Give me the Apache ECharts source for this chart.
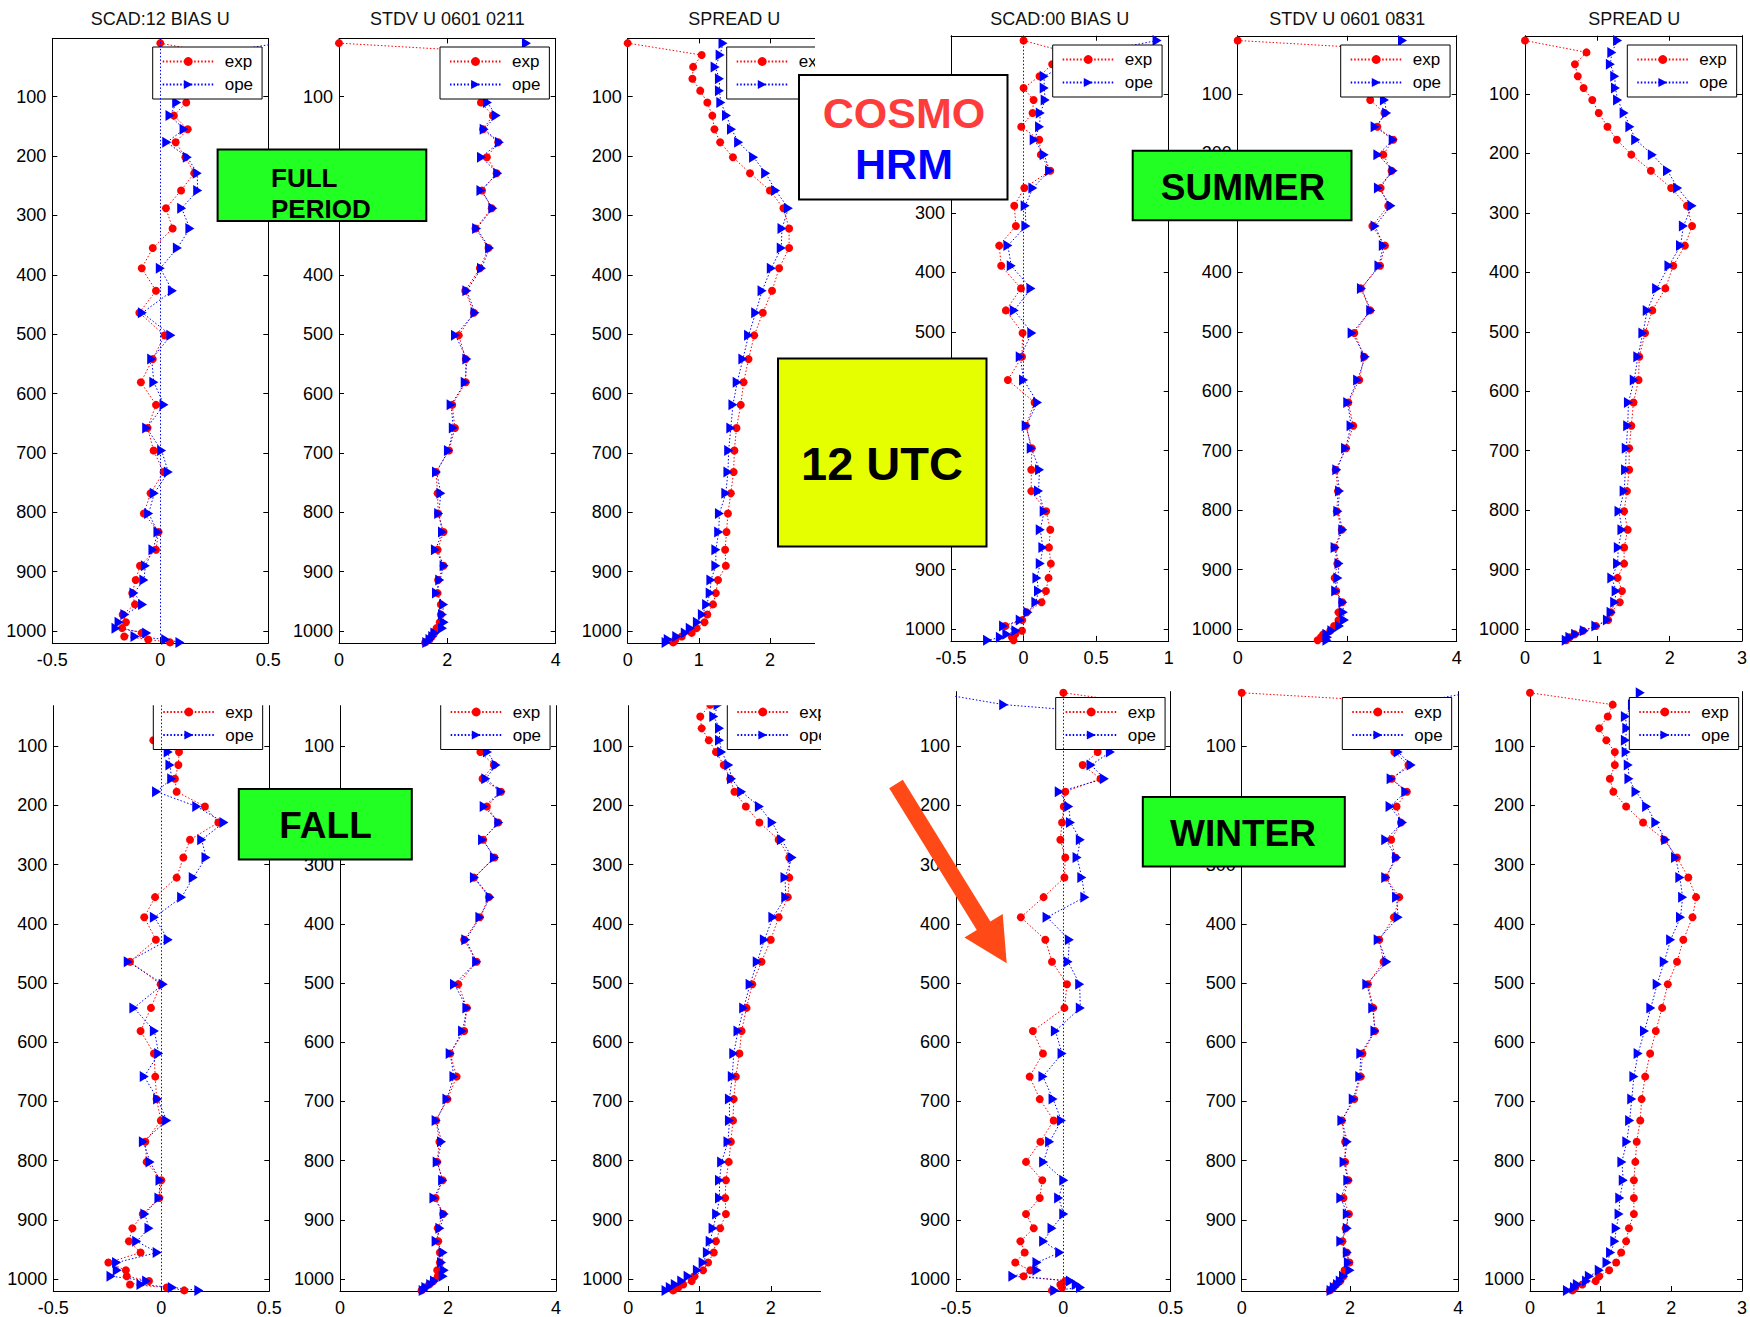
<!DOCTYPE html>
<html>
<head>
<meta charset="utf-8">
<title>COSMO / HRM wind U profiles</title>
<script src="https://cdn.jsdelivr.net/npm/echarts@6/dist/echarts.min.js"></script>
<style>
  html, body { margin: 0; padding: 0; background: #fff; }
  #chart { width: 1750px; height: 1317px; }
</style>
</head>
<body>
<div id="chart"></div>
<script>
const FONT = '"Liberation Sans", Arial, sans-serif';

// pressure levels (hPa), same for every profile
const levels = [10, 30, 50, 70, 90, 110, 132, 155, 177, 202, 229, 258, 288, 322, 355, 389, 427, 464, 502, 542,
  581, 619, 658, 696, 732, 768, 802, 833, 863, 890, 914, 936, 955, 972, 985, 995, 1003, 1009, 1014, 1019];

// tick labels
const pressureTicks = [100, 200, 300, 400, 500, 600, 700, 800, 900, 1000];
const biasTicks = [-0.5, 0, 0.5];
const biasTicksWide = [-0.5, 0, 0.5, 1];
const stdvTicks = [0, 2, 4];
const spreadTicks = [0, 1, 2, 3];

// FULL PERIOD
const fullBiasExp = [0, 0.29, 0.25, 0.2, 0.15, 0.12, 0.063, 0.127, 0.071, 0.116, 0.157, 0.096, 0.026, 0.057, -0.035, -0.086, -0.02, -0.097, 0.02, -0.035,
  -0.09, -0.02, -0.059, -0.031, 0.015, -0.045, -0.076, -0.008, -0.02, -0.094, -0.114, -0.13, -0.117, -0.174, -0.159, -0.177, -0.086, -0.167, -0.056, 0.045];
const fullBiasOpe = [0.55, 0.2, 0.18, 0.15, 0.12, 0.076, 0.045, 0.11, 0.03, 0.125, 0.171, 0.173, 0.099, 0.137, 0.079, 0, 0.056, -0.083, 0.049, -0.04,
  -0.03, 0.017, -0.063, 0.006, 0.037, -0.028, -0.054, -0.011, -0.034, -0.069, -0.076, -0.122, -0.082, -0.164, -0.191, -0.205, -0.063, -0.117, 0.025, 0.091];
const fullStdvExp = [0, 3.8, 2.8, 2.7, 2.65, 2.62, 2.84, 2.66, 2.94, 2.73, 2.91, 2.64, 2.82, 2.52, 2.76, 2.6, 2.33, 2.49, 2.21, 2.34,
  2.34, 2.09, 2.14, 2.03, 1.79, 1.82, 1.83, 1.93, 1.82, 1.93, 1.83, 1.82, 1.88, 1.88, 1.86, 1.8, 1.76, 1.71, 1.67, 1.59];
const fullStdvOpe = [3.46, 3.2, 3.0, 2.85, 2.75, 2.74, 2.9, 2.68, 2.96, 2.63, 2.93, 2.62, 2.84, 2.54, 2.78, 2.63, 2.36, 2.51, 2.15, 2.36,
  2.33, 2.07, 2.11, 2.02, 1.8, 1.88, 1.84, 1.91, 1.78, 1.94, 1.86, 1.8, 1.93, 1.91, 1.94, 1.91, 1.77, 1.73, 1.68, 1.62];
const fullSpreadExp = [0, 1.04, 0.92, 0.91, 1.02, 1.12, 1.19, 1.22, 1.3, 1.48, 1.72, 2.0, 2.19, 2.27, 2.27, 2.13, 2.03, 1.9, 1.78, 1.7,
  1.63, 1.59, 1.53, 1.5, 1.49, 1.45, 1.41, 1.39, 1.37, 1.38, 1.27, 1.24, 1.2, 1.12, 1.08, 0.97, 0.9, 0.76, 0.67, 0.64];
const fullSpreadOpe = [1.34, 1.3, 1.23, 1.29, 1.29, 1.31, 1.39, 1.46, 1.56, 1.77, 1.94, 2.08, 2.26, 2.17, 2.16, 2.02, 1.89, 1.8, 1.7, 1.62,
  1.54, 1.48, 1.45, 1.42, 1.41, 1.38, 1.29, 1.28, 1.24, 1.24, 1.17, 1.16, 1.11, 1.05, 0.98, 0.88, 0.81, 0.69, 0.57, 0.54];

// SUMMER
const summerBiasExp = [0, 0.3, 0.197, 0.11, 0, 0.069, 0.062, -0.016, 0.108, 0.119, 0.184, 0.005, -0.064, -0.053, -0.168, -0.154, -0.018, -0.122, -0.007, -0.011,
  -0.108, 0.076, 0.016, 0.057, 0.053, 0.053, 0.156, 0.184, 0.175, 0.188, 0.172, 0.154, 0.124, 0.023, -0.009, -0.126, -0.011, -0.057, -0.08, -0.069];
const summerBiasOpe = [0.92, 0.5, 0.3, 0.142, 0.142, 0.149, 0.115, 0.11, 0.073, 0.142, 0.179, 0.064, 0.011, 0.016, -0.108, -0.085, 0.051, -0.064, 0.057, -0.023,
  0, 0.096, 0.018, 0.053, 0.11, 0.103, 0.142, 0.115, 0.133, 0.115, 0.092, 0.103, 0.085, 0.03, -0.023, -0.138, -0.053, -0.115, -0.16, -0.248];
const summerStdvExp = [0, 3.8, 2.75, 2.6, 2.5, 2.42, 2.68, 2.55, 2.84, 2.66, 2.81, 2.61, 2.75, 2.46, 2.69, 2.6, 2.25, 2.42, 2.13, 2.31,
  2.22, 2.02, 2.11, 1.98, 1.79, 1.83, 1.81, 1.9, 1.77, 1.82, 1.77, 1.8, 1.91, 1.84, 1.84, 1.76, 1.69, 1.56, 1.52, 1.46];
const summerStdvOpe = [3.01, 2.9, 2.8, 2.7, 2.65, 2.68, 2.72, 2.51, 2.84, 2.56, 2.84, 2.57, 2.8, 2.51, 2.66, 2.58, 2.26, 2.43, 2.09, 2.33,
  2.19, 2.01, 2.07, 1.97, 1.81, 1.86, 1.83, 1.92, 1.78, 1.85, 1.83, 1.79, 1.92, 1.93, 1.95, 1.86, 1.72, 1.63, 1.64, 1.63];
const summerSpreadExp = [0, 0.85, 0.69, 0.73, 0.81, 0.93, 1.02, 1.14, 1.27, 1.47, 1.74, 2.02, 2.24, 2.31, 2.21, 2.05, 1.94, 1.76, 1.66, 1.58,
  1.57, 1.5, 1.47, 1.44, 1.44, 1.41, 1.37, 1.42, 1.37, 1.37, 1.28, 1.34, 1.31, 1.19, 1.15, 0.98, 0.8, 0.69, 0.62, 0.57];
const summerSpreadOpe = [1.28, 1.2, 1.18, 1.24, 1.25, 1.28, 1.37, 1.45, 1.53, 1.76, 1.97, 2.11, 2.31, 2.19, 2.15, 1.99, 1.82, 1.69, 1.63, 1.56,
  1.51, 1.43, 1.42, 1.4, 1.39, 1.37, 1.3, 1.34, 1.29, 1.28, 1.2, 1.26, 1.24, 1.19, 1.14, 0.98, 0.82, 0.7, 0.62, 0.57];

// FALL
const fallBiasExp = [0, 0.05, 0.05, 0.02, -0.037, 0.082, 0.079, 0.063, 0.071, 0.202, 0.264, 0.133, 0.102, 0.071, -0.029, -0.079, -0.025, -0.145, -0.003, -0.048,
  -0.096, -0.034, -0.028, -0.022, -0.002, -0.074, -0.068, 0, -0.009, -0.086, -0.134, -0.15, -0.096, -0.245, -0.164, -0.16, -0.057, -0.145, 0.025, 0.106];
const fallBiasOpe = [0, 0.05, 0.05, 0.05, 0.03, 0.032, 0.04, 0.048, -0.022, 0.164, 0.29, 0.187, 0.207, 0.148, 0.094, -0.032, 0.032, -0.153, 0.009, -0.127,
  -0.032, -0.012, -0.079, -0.017, 0.025, -0.083, -0.052, -0.006, -0.011, -0.076, -0.057, -0.114, -0.019, -0.207, -0.204, -0.233, -0.068, -0.094, 0.051, 0.174];
const fallStdvExp = [0, 2.8, 2.75, 2.7, 2.65, 2.6, 2.85, 2.64, 2.98, 2.72, 2.93, 2.65, 2.86, 2.48, 2.76, 2.59, 2.3, 2.53, 2.19, 2.35,
  2.3, 2.04, 2.16, 1.99, 1.78, 1.84, 1.8, 1.9, 1.77, 1.91, 1.81, 1.82, 1.85, 1.85, 1.8, 1.81, 1.73, 1.65, 1.57, 1.51];
const fallStdvOpe = [3.0, 2.85, 2.8, 2.75, 2.7, 2.73, 2.89, 2.7, 2.98, 2.67, 2.94, 2.64, 2.86, 2.49, 2.78, 2.59, 2.33, 2.53, 2.12, 2.35,
  2.27, 2.04, 2.11, 1.98, 1.78, 1.88, 1.8, 1.9, 1.74, 1.93, 1.85, 1.78, 1.91, 1.88, 1.93, 1.91, 1.75, 1.68, 1.59, 1.54];
const fallSpreadExp = [0, 1.15, 1.01, 1.03, 1.13, 1.23, 1.34, 1.43, 1.49, 1.65, 1.84, 2.11, 2.26, 2.26, 2.24, 2.11, 2.0, 1.87, 1.74, 1.66,
  1.59, 1.56, 1.51, 1.48, 1.47, 1.44, 1.41, 1.37, 1.36, 1.37, 1.29, 1.23, 1.2, 1.12, 1.05, 0.93, 0.89, 0.77, 0.7, 0.63];
const fallSpreadOpe = [1.3, 1.26, 1.2, 1.28, 1.28, 1.31, 1.41, 1.45, 1.59, 1.84, 2.02, 2.15, 2.3, 2.2, 2.21, 2.03, 1.91, 1.81, 1.71, 1.62,
  1.54, 1.48, 1.46, 1.42, 1.42, 1.4, 1.31, 1.28, 1.28, 1.24, 1.19, 1.15, 1.11, 1.05, 0.97, 0.84, 0.75, 0.66, 0.59, 0.53];

// WINTER
const winterBiasExp = [0, 0.4, 0.3, 0.25, 0.2, 0.16, 0.09, 0.173, 0.009, 0.002, -0.006, -0.014, 0.009, 0.005, -0.092, -0.198, -0.084, -0.053, 0.017, 0.005,
  -0.142, -0.095, -0.157, -0.11, -0.045, -0.107, -0.174, -0.098, -0.11, -0.174, -0.138, -0.2, -0.18, -0.224, -0.154, -0.185, 0.009, -0.014, -0.006, -0.053];
const winterBiasOpe = [-0.6, -0.278, 0.42, 0.25, 0.22, 0.219, 0.129, 0.191, -0.019, 0.025, 0.033, 0.079, 0.064, 0.086, 0.1, -0.076, 0.028, 0.022, 0.076, 0.079,
  -0.037, -0.006, -0.095, -0.048, -0.009, -0.064, -0.092, 0.002, -0.022, 0.002, -0.053, -0.092, -0.017, -0.123, -0.123, -0.235, 0.033, 0.06, 0.08, -0.04];
const winterStdvExp = [0, 3.8, 2.85, 2.8, 2.75, 2.82, 3.08, 2.77, 3.05, 2.86, 2.94, 2.76, 2.84, 2.66, 2.91, 2.81, 2.54, 2.62, 2.33, 2.43,
  2.46, 2.23, 2.2, 2.08, 1.85, 1.91, 1.91, 1.97, 1.88, 1.98, 1.92, 1.86, 1.94, 1.99, 1.9, 1.88, 1.82, 1.74, 1.69, 1.63];
const winterStdvOpe = [4.2, 3.0, 2.9, 2.85, 2.8, 2.89, 3.13, 2.76, 3.03, 2.74, 2.97, 2.66, 2.86, 2.66, 2.86, 2.89, 2.52, 2.68, 2.31, 2.42,
  2.46, 2.2, 2.18, 2.06, 1.85, 1.95, 1.89, 1.96, 1.83, 1.95, 1.95, 1.83, 1.95, 1.97, 2.0, 1.88, 1.82, 1.77, 1.71, 1.65];
const winterSpreadExp = [0, 1.17, 1.1, 0.98, 1.08, 1.2, 1.2, 1.13, 1.18, 1.36, 1.6, 1.9, 2.08, 2.24, 2.35, 2.3, 2.17, 2.08, 1.95, 1.87,
  1.78, 1.7, 1.63, 1.58, 1.56, 1.51, 1.49, 1.47, 1.47, 1.47, 1.4, 1.36, 1.29, 1.22, 1.12, 0.98, 0.93, 0.74, 0.64, 0.6];
const winterSpreadOpe = [1.56, 1.45, 1.35, 1.37, 1.35, 1.36, 1.39, 1.4, 1.5, 1.65, 1.78, 1.92, 2.06, 2.12, 2.16, 2.13, 1.99, 1.9, 1.8, 1.71,
  1.62, 1.53, 1.47, 1.44, 1.41, 1.37, 1.3, 1.32, 1.27, 1.26, 1.22, 1.2, 1.14, 1.09, 0.98, 0.84, 0.8, 0.67, 0.63, 0.53];

// panel layout (pixels)
const topL = { top: 38.4, bottom: 643.0, yMin: 2, box: true };
const topR = { top: 35.75, bottom: 640.9, yMin: 2, box: true };
const botL = { top: 701.7, bottom: 1292.3, yMin: 25, box: false };
const botR = { top: 691.6, bottom: 1292.3, yMin: 8, box: false };

// "covered" = pressure labels hidden under the annotation boxes in the original
const panels = [
  { ...topL, title: "SCAD:12 BIAS U", exp: fullBiasExp, ope: fullBiasOpe, xMin: -0.5, xMax: 0.5, xTicks: biasTicks, zero: true, left: 52.3, right: 268.3, legend: [152.7, 47] },
  { ...topL, title: "STDV U 0601 0211", exp: fullStdvExp, ope: fullStdvOpe, xMin: 0, xMax: 4, xTicks: stdvTicks, left: 339, right: 555.7, legend: [440, 47], covered: [300] },
  { ...topL, title: "SPREAD U", exp: fullSpreadExp, ope: fullSpreadOpe, xMin: 0, xMax: 3, xTicks: spreadTicks, left: 627.7, right: 841, legend: [726.7, 47] },
  { ...topR, title: "SCAD:00 BIAS U", exp: summerBiasExp, ope: summerBiasOpe, xMin: -0.5, xMax: 1, xTicks: biasTicksWide, zero: true, left: 951, right: 1168.7, legend: [1052.7, 45], covered: [100, 200, 600, 700, 800] },
  { ...topR, title: "STDV U 0601 0831", exp: summerStdvExp, ope: summerStdvOpe, xMin: 0, xMax: 4, xTicks: stdvTicks, left: 1237.7, right: 1456.7, legend: [1340.7, 45], covered: [300] },
  { ...topR, title: "SPREAD U", exp: summerSpreadExp, ope: summerSpreadOpe, xMin: 0, xMax: 3, xTicks: spreadTicks, left: 1525, right: 1743.3, legend: [1627.3, 45] },
  { ...botL, exp: fallBiasExp, ope: fallBiasOpe, xMin: -0.5, xMax: 0.5, xTicks: biasTicks, zero: true, left: 53.3, right: 269.3, legend: [153.3, 697.5] },
  { ...botL, exp: fallStdvExp, ope: fallStdvOpe, xMin: 0, xMax: 4, xTicks: stdvTicks, left: 340, right: 556, legend: [440.7, 697.5], covered: [200] },
  { ...botL, exp: fallSpreadExp, ope: fallSpreadOpe, xMin: 0, xMax: 3, xTicks: spreadTicks, left: 628.3, right: 842, legend: [727.3, 697.5] },
  { ...botR, exp: winterBiasExp, ope: winterBiasOpe, xMin: -0.5, xMax: 0.5, xTicks: biasTicks, zero: true, left: 956, right: 1170.7, legend: [1055.7, 697.5] },
  { ...botR, exp: winterStdvExp, ope: winterStdvOpe, xMin: 0, xMax: 4, xTicks: stdvTicks, left: 1241.7, right: 1458.3, legend: [1342.3, 697.5], covered: [200] },
  { ...botR, exp: winterSpreadExp, ope: winterSpreadOpe, xMin: 0, xMax: 3, xTicks: spreadTicks, left: 1530, right: 1745, legend: [1629.3, 697.5] },
];

const RED = "#ff0000";
const BLUE = "#0000ff";
const DOTS = [1.5, 2];
const TRIANGLE = "path://M0,0L10,5L0,10Z";

const grid = [], xAxis = [], yAxis = [], series = [], legend = [], graphic = [];

const axisLine = { show: true, onZero: false, lineStyle: { color: "#000", width: 1 } };
const ticks = (vals) => ({ show: true, inside: true, length: 5, customValues: vals, lineStyle: { color: "#000", width: 1 } });
const labels = (vals, margin) => ({
  show: true, customValues: vals, fontSize: 18, fontFamily: FONT, color: "#000", margin,
  formatter: (v) => String(v),
});

panels.forEach((p, i) => {
  grid.push({ left: p.left, top: p.top, width: p.right - p.left, height: p.bottom - p.top, show: false });

  const xIndex = xAxis.length;
  xAxis.push({ type: "value", gridIndex: i, position: "bottom", min: p.xMin, max: p.xMax,
    axisLine, axisTick: ticks(p.xTicks), axisLabel: labels(p.xTicks, 8), splitLine: { show: false } });
  if (p.box) {
    xAxis.push({ type: "value", gridIndex: i, position: "top", min: p.xMin, max: p.xMax,
      axisLine, axisTick: ticks(p.xTicks), axisLabel: { show: false }, splitLine: { show: false } });
  }

  const shown = pressureTicks.filter((v) => !(p.covered || []).includes(v));
  const yIndex = yAxis.length;
  yAxis.push({ type: "value", gridIndex: i, position: "left", inverse: true, min: p.yMin, max: 1020,
    axisLine, axisTick: ticks(pressureTicks), axisLabel: labels(shown, 6), splitLine: { show: false } });
  yAxis.push({ type: "value", gridIndex: i, position: "right", inverse: true, min: p.yMin, max: 1020,
    axisLine, axisTick: ticks(pressureTicks), axisLabel: { show: false }, splitLine: { show: false } });

  series.push({
    type: "line", name: "exp", xAxisIndex: xIndex, yAxisIndex: yIndex,
    data: levels.map((lev, k) => [p.exp[k], lev]),
    symbol: "circle", symbolSize: 8, showAllSymbol: true, clip: true,
    itemStyle: { color: RED }, lineStyle: { color: RED, width: 1, type: DOTS },
    emphasis: { disabled: true }, silent: true,
  });
  const ope = {
    type: "line", name: "ope", xAxisIndex: xIndex, yAxisIndex: yIndex,
    data: levels.map((lev, k) => [p.ope[k], lev]),
    symbol: TRIANGLE, symbolSize: [9, 11], showAllSymbol: true, clip: true,
    itemStyle: { color: BLUE }, lineStyle: { color: BLUE, width: 1, type: DOTS },
    emphasis: { disabled: true }, silent: true,
  };
  // zero reference line in the bias panels
  if (p.zero) {
    ope.markLine = {
      silent: true, symbol: ["none", "none"], label: { show: false }, animation: false,
      lineStyle: { color: BLUE, width: 1, type: DOTS }, data: [{ xAxis: 0 }],
    };
  }
  series.push(ope);

  legend.push({
    left: p.legend[0], top: p.legend[1], orient: "vertical", data: ["exp", "ope"],
    itemWidth: 51, itemHeight: 11, itemGap: 6, padding: [6, 9, 6, 9],
    backgroundColor: "#fff", borderColor: "#000", borderWidth: 1, selectedMode: false,
    textStyle: { fontSize: 17, fontFamily: FONT, color: "#000", padding: [0, 0, 0, 6] },
  });

  if (p.title) {
    graphic.push({
      type: "text", x: (p.left + p.right) / 2, y: 19, z: 10, silent: true,
      style: { text: p.title, font: `18px ${FONT}`, fill: "#111", align: "center", verticalAlign: "middle", textAlign: "center", textVerticalAlign: "middle" },
    });
  }
});

// the source picture is cropped: blank out the cut edges
const blank = (x, y, w, h) => ({ type: "rect", z: 50, silent: true, shape: { x, y, width: w, height: h }, style: { fill: "#fff" } });
graphic.push(blank(815, 0, 37, 670));
graphic.push(blank(821, 670, 31, 647));
graphic.push(blank(0, 670, 852, 35.2));

// annotation boxes
const box = (x, y, w, h, fill) => ({ type: "rect", z: 60, silent: true, shape: { x, y, width: w, height: h }, style: { fill, stroke: "#000", lineWidth: 2 } });
const label = (text, x, y, size, color, align) => ({
  type: "text", x, y, z: 61, silent: true,
  style: { text, font: `bold ${size}px ${FONT}`, fill: color, align: align || "center", verticalAlign: "middle", textAlign: align || "center", textVerticalAlign: "middle" },
});
const GREEN = "#22ff22";

graphic.push(box(217.6, 149.5, 208.7, 71.5, GREEN));
graphic.push(label("FULL", 271, 178, 26, "#000", "left"));
graphic.push(label("PERIOD", 271, 209, 26, "#000", "left"));

graphic.push(box(799, 75, 208.5, 124.5, "#fff"));
graphic.push(label("COSMO", 904, 113, 43, "#ff3c3c"));
graphic.push(label("HRM", 904, 164, 43, BLUE));

graphic.push(box(778, 358.5, 208.5, 188, "#e5ff00"));
graphic.push(label("12 UTC", 882, 463, 47, "#000"));

graphic.push(box(1132.7, 150.7, 218.8, 69.5, GREEN));
graphic.push(label("SUMMER", 1243, 187, 37, "#000"));

graphic.push(box(238.8, 789, 173, 70.5, GREEN));
graphic.push(label("FALL", 325.5, 825, 37, "#000"));

graphic.push(box(1142.8, 797, 202, 69.5, GREEN));
graphic.push(label("WINTER", 1243, 833, 37, "#000"));

// orange arrow pointing at the winter bias profile
const arrowTail = [896, 784];
const arrowTip = [1006.7, 963.2];
const adx = arrowTip[0] - arrowTail[0], ady = arrowTip[1] - arrowTail[1];
const alen = Math.hypot(adx, ady);
const ux = adx / alen, uy = ady / alen, nx = uy, ny = -ux;
const headBase = alen - 44, shaftHalf = 8, headHalf = 22.5;
const pt = (t, s) => [arrowTail[0] + ux * t + nx * s, arrowTail[1] + uy * t + ny * s];
graphic.push({
  type: "polygon", z: 60, silent: true,
  shape: { points: [pt(0, shaftHalf), pt(headBase, shaftHalf), pt(headBase, headHalf), arrowTip, pt(headBase, -headHalf), pt(headBase, -shaftHalf), pt(0, -shaftHalf)] },
  style: { fill: "#ff4a17" },
});

const chart = echarts.init(document.getElementById("chart"), null, { renderer: "svg" });
chart.setOption({
  animation: false,
  backgroundColor: "#fff",
  grid, xAxis, yAxis, series, legend,
  graphic: { elements: graphic },
});
</script>
</body>
</html>
